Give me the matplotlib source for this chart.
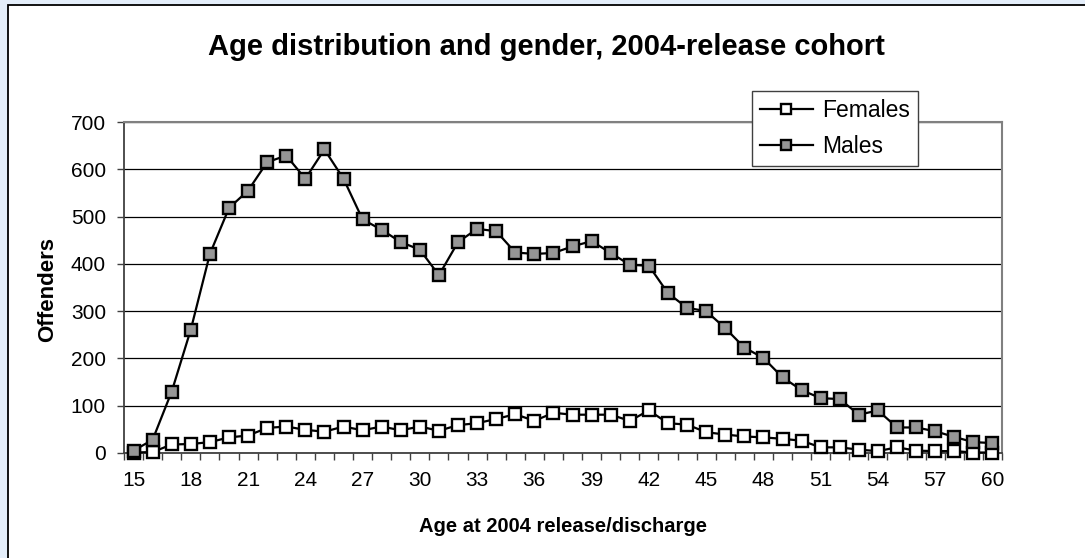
import matplotlib
matplotlib.use("Agg")
import matplotlib.pyplot as plt
from matplotlib.patches import Rectangle

plt.rcParams['font.family'] = ['Liberation Sans', 'DejaVu Sans']

# Data
ages = list(range(15, 61))
females = [1, 2, 18, 19, 23, 33, 37, 53, 56, 49, 45, 56, 48, 56, 48, 56, 47, 59, 63, 72,
           82, 68, 85, 81, 81, 81, 68, 90, 63, 60, 44, 39, 35, 33, 30, 26, 12, 12, 7, 4,
           12, 5, 4, 4, 1, 1]
males = [5, 28, 130, 261, 421, 518, 555, 615, 629, 580, 642, 580, 494, 472, 446, 430, 376, 446, 474, 469,
         424, 421, 423, 437, 448, 423, 398, 396, 338, 307, 300, 264, 223, 201, 160, 133, 116, 114, 81, 90,
         54, 54, 46, 34, 23, 21]
label_ages = list(range(15, 61, 3))
y_ticks = [0, 100, 200, 300, 400, 500, 600, 700]

W, H = 1085, 558
fig = plt.figure(figsize=(W / 100, H / 100), dpi=100)
fig.patch.set_facecolor('#E4EEFA')

# white chart area with black border on left/top (rest runs off the image)
fig.patches.append(Rectangle((8 / W, -0.1), 1.2, 1 - 5 / H + 0.1, transform=fig.transFigure,
                             facecolor='white', edgecolor='black', linewidth=1.3, zorder=-1))

ax = fig.add_axes([124 / W, 1 - 453 / H, (1002 - 124) / W, (453 - 122) / H])
ax.set_zorder(1)
ax.set_facecolor('white')

ax.plot(ages, females, color='black', lw=1.6, marker='s', ms=9, mfc='white', mec='black',
        mew=1.7, label='Females', zorder=3, clip_on=False)
ax.plot(ages, males, color='black', lw=1.6, marker='s', ms=9, mfc='#969696', mec='black',
        mew=1.7, label='Males', zorder=3, clip_on=False)

ax.set_xlim(14.5, 60.5)
ax.set_ylim(0, 700)
ax.set_yticks(y_ticks)
ax.yaxis.grid(True, color='black', lw=0.9)
ax.set_axisbelow(True)

# ticks on category boundaries, labels at category centres
ax.set_xticks([a - 0.5 for a in ages] + [60.5])
ax.set_xticklabels([])
ax.set_xticks(label_ages, minor=True)
ax.set_xticklabels([str(a) for a in label_ages], minor=True)
ax.tick_params(axis='x', which='major', direction='out', length=5, width=1, color='#404040')
ax.tick_params(axis='x', which='minor', length=0, pad=13, labelsize=15)
ax.tick_params(axis='y', direction='out', length=5, width=1, color='#404040', pad=8, labelsize=15)

for side in ['top', 'right']:
    ax.spines[side].set_color('#808080')
    ax.spines[side].set_linewidth(1.5)
for side in ['left', 'bottom']:
    ax.spines[side].set_color('#404040')
    ax.spines[side].set_linewidth(1.3)

fig.text(546 / W, 1 - 47 / H, 'Age distribution and gender, 2004-release cohort',
         ha='center', va='center', fontsize=21, fontweight='bold')
fig.text(563 / W, 1 - 527 / H, 'Age at 2004 release/discharge',
         ha='center', va='center', fontsize=14.5, fontweight='bold')
fig.text(48 / W, 1 - 290 / H, 'Offenders', ha='center', va='center', rotation=90,
         fontsize=16, fontweight='bold')

leg = ax.legend(loc='upper left', bbox_to_anchor=(752 / W, 1 - 91 / H), bbox_transform=fig.transFigure,
                fontsize=16.5, frameon=True, fancybox=False, handlelength=2.3, handletextpad=0.4,
                labelspacing=0.55, borderpad=0.35, borderaxespad=0, markerscale=0.85)
leg.get_frame().set_edgecolor('#404040')
leg.get_frame().set_linewidth(1.0)
leg.get_frame().set_alpha(1)
leg.set_zorder(5)

fig.savefig('out.png', dpi=100, facecolor=fig.get_facecolor())
